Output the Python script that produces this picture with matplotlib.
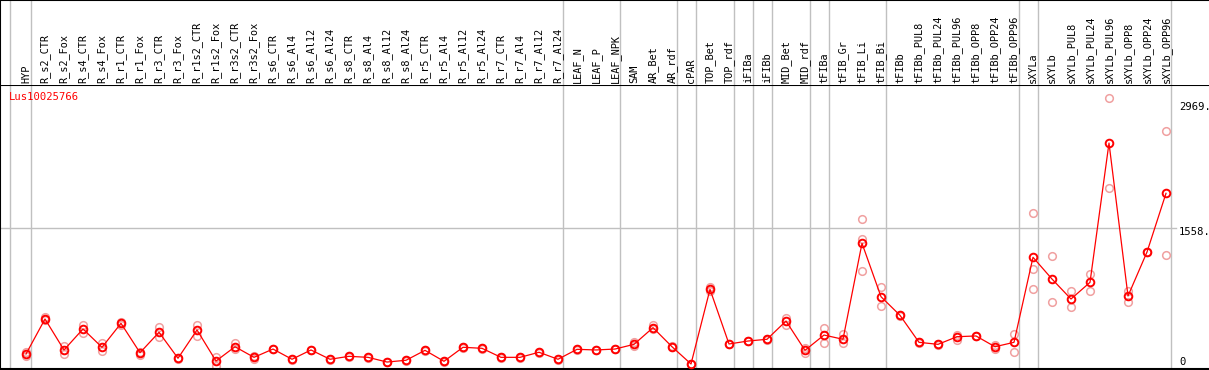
import numpy as np
import matplotlib
matplotlib.use("Agg")
import matplotlib.pyplot as plt

samples = ["HYP",
           "R_s2_CTR", "R_s2_Fox", "R_s4_CTR", "R_s4_Fox", "R_r1_CTR", "R_r1_Fox",
           "R_r3_CTR", "R_r3_Fox", "R_r1s2_CTR", "R_r1s2_Fox", "R_r3s2_CTR", "R_r3s2_Fox",
           "R_s6_CTR", "R_s6_Al4", "R_s6_Al12", "R_s6_Al24", "R_s8_CTR", "R_s8_Al4",
           "R_s8_Al12", "R_s8_Al24", "R_r5_CTR", "R_r5_Al4", "R_r5_Al12", "R_r5_Al24",
           "R_r7_CTR", "R_r7_Al4", "R_r7_Al12", "R_r7_Al24",
           "LEAF_N", "LEAF_P", "LEAF_NPK", "SAM", "AR_Bet", "AR_rdf", "cPAR",
           "TOP_Bet", "TOP_rdf", "iFIBa", "iFIBb", "MID_Bet", "MID_rdf", "tFIBa",
           "tFIB_Gr", "tFIB_Li", "tFIB_Bi", "tFIBb", "tFIBb_PUL8", "tFIBb_PUL24",
           "tFIBb_PUL96", "tFIBb_OPP8", "tFIBb_OPP24", "tFIBb_OPP96", "sXYLa",
           "sXYLb", "sXYLb_PUL8", "sXYLb_PUL24", "sXYLb_PUL96", "sXYLb_OPP8",
           "sXYLb_OPP24", "sXYLb_OPP96"]

means = [193, 573, 237, 465, 266, 526, 207, 429, 147, 454, 117, 272, 157,
         247, 136, 237, 136, 168, 157, 106, 125, 233, 114, 266, 255, 157, 157, 212, 136,
         244, 237, 247, 298, 479, 272, 85, 895, 302, 334, 353, 551, 233, 399,
         353, 1395, 815, 613, 320, 298, 381, 389, 272, 320, 1243,
         1007, 790, 971, 2483, 823, 1300, 1937]

reps = [[215, 171], [598, 562], [283, 193], [508, 424], [309, 229], [540, 513], [218, 182],
        [490, 381], [155, 139], [508, 392], [164, 63], [309, 247], [171, 142],
        [251, 243], [140, 132], [241, 233], [140, 132], [172, 164], [161, 153],
        [110, 102], [129, 121], [237, 229], [118, 110], [270, 262], [259, 251],
        [161, 153], [161, 153], [216, 208], [140, 132],
        [248, 240], [241, 233], [251, 243], [323, 275], [508, 461], [276, 268], [89, 81],
        [920, 872], [306, 298], [338, 330], [357, 349], [587, 508], [255, 201], [472, 316],
        [410, 309], [1655, 1438, 1094], [924, 714], [617, 609], [327, 313], [302, 294],
        [399, 345], [393, 385], [291, 247], [410, 218], [1720, 1113, 895],
        [1254, 754], [874, 700], [1062, 880], [2969, 1998], [877, 761], [1304, 1296],
        [2610, 1264]]

# index of last sample in each group
group_ends = [0, 28, 31, 34, 35, 37, 38, 39, 41, 42, 45, 52, 53, 60]
gene = "Lus10025766"
ytick_vals = [0, 1558, 2969]

W, H = 1209, 370
fig = plt.figure(figsize=(W / 100, H / 100), dpi=100)
mono = "DejaVu Sans Mono"

x = np.arange(len(samples))
xl = (-26 / 19, (W - 26) / 19)
top_px, bot_px = 85, 369
y0px, k = 371.8, 0.09213
ylim = ((y0px - bot_px) / k, (y0px - top_px) / k)

ax = fig.add_axes([0, (H - bot_px) / H, 1, (bot_px - top_px) / H])
hx = fig.add_axes([0, (H - top_px) / H, 1, top_px / H])
for a in (ax, hx):
    a.set_xlim(*xl)
    a.set_xticks([])
    a.set_yticks([])
    for s in a.spines.values():
        s.set_visible(False)
ax.set_ylim(*ylim)
hx.set_ylim(0, 1)

# frame
for a in (ax, hx):
    a.spines["left"].set_visible(True)
    a.spines["top"].set_visible(True)
    a.spines["left"].set_linewidth(1.5)
    a.spines["top"].set_linewidth(1.5)
ax.spines["bottom"].set_visible(True)
ax.spines["bottom"].set_linewidth(1.5)

# group separators
seps = [-0.84] + [e + 0.25 for e in group_ends]
for sx in seps:
    ax.axvline(sx, color="#c0c0c0", lw=1, zorder=0)
    hx.axvline(sx, color="#c0c0c0", lw=1, zorder=0)

# horizontal grid at middle tick
ax.axhline(ytick_vals[1], xmin=0, xmax=1176 / W, color="#c0c0c0", lw=1, zorder=0)

# replicate points
for i, r in enumerate(reps):
    ax.plot([i] * len(r), r, "o", ms=5.5, mfc="none", mec="#f0a0a0", mew=1.1,
            zorder=2, clip_on=False)

ax.plot(x, means, "-", color="red", lw=0.9, zorder=3)
ax.plot(x, means, "o", ms=5.5, mfc="none", mec="red", mew=1.4, zorder=4)

for i, s in enumerate(samples):
    hx.text(i, 2 / top_px, s, rotation=90, ha="center", va="bottom",
            fontsize=7.4, family=mono, color="black")

ax.text(9 / W, 1 - 12 / (bot_px - top_px), gene, transform=ax.transAxes,
        color="red", fontsize=7.6, family=mono, ha="left", va="center")

ypos = [362, 232, 107]
for v, yp in zip(ytick_vals, ypos):
    lab = str(v) if v == 0 else f"{v}."
    fig.text(1179 / W, 1 - yp / H, lab, fontsize=7.6, family=mono,
             ha="left", va="center", color="black")

fig.savefig("out.png", dpi=100)
